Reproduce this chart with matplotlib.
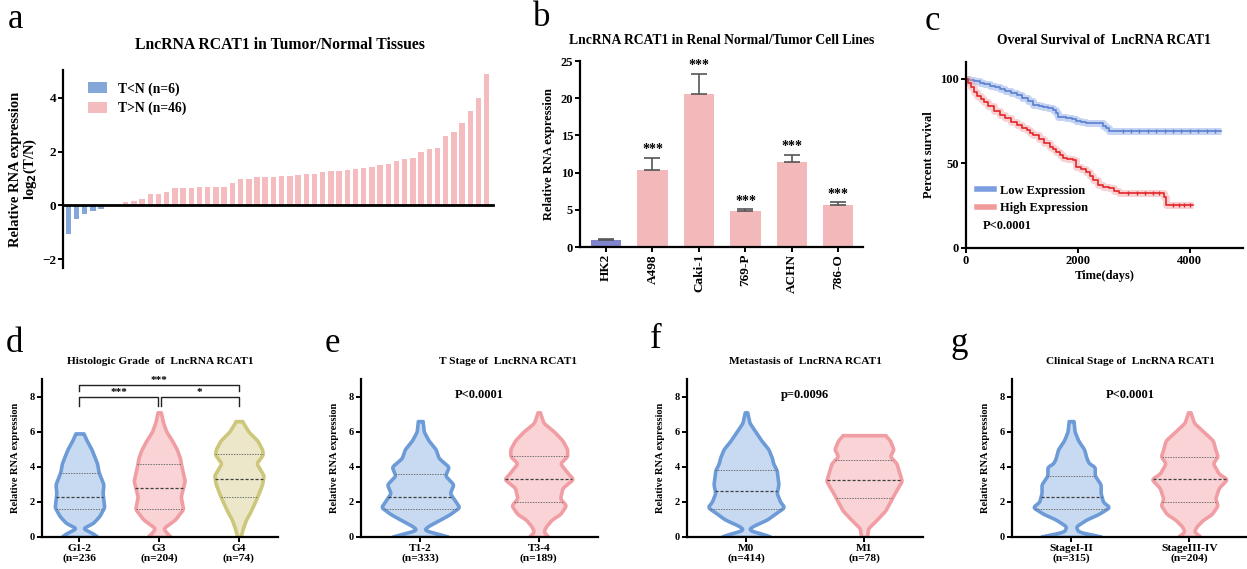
import numpy as np
import matplotlib
matplotlib.use("Agg")
import matplotlib.pyplot as plt
from matplotlib.lines import Line2D

plt.rcParams['font.family'] = ['Liberation Serif', 'DejaVu Serif']
plt.rcParams['font.weight'] = 'bold'
plt.rcParams['axes.labelweight'] = 'bold'
plt.rcParams['axes.linewidth'] = 1.6
plt.rcParams['xtick.major.width'] = 1.4
plt.rcParams['ytick.major.width'] = 1.4
plt.rcParams['xtick.major.size'] = 3.5
plt.rcParams['ytick.major.size'] = 3.5

# ---- panel a: paired tissues log2(T/N)
a_low = [-1.05, -0.5, -0.32, -0.22, -0.12, -0.03]
a_high = [0.03, 0.14, 0.17, 0.25, 0.42, 0.44, 0.49, 0.63, 0.64, 0.65, 0.68, 0.70,
          0.70, 0.70, 0.85, 0.98, 1.00, 1.04, 1.07, 1.07, 1.10, 1.10, 1.15, 1.17,
          1.17, 1.26, 1.27, 1.28, 1.30, 1.36, 1.41, 1.43, 1.49, 1.53, 1.67, 1.73,
          1.77, 2.00, 2.10, 2.15, 2.58, 2.73, 3.05, 3.53, 4.00, 4.88]

# ---- panel b: cell lines
b_cells = ['HK2', 'A498', 'Caki-1', '769-P', 'ACHN', '786-O']
b_mean = [1.0, 10.4, 20.5, 4.9, 11.4, 5.7]
b_err = [0.1, 1.6, 2.8, 0.15, 1.0, 0.3]

# ---- panel c: Kaplan-Meier (time in days, percent survival)
low_t = [0, 60, 150, 250, 320, 420, 520, 610, 700, 800, 905, 1000, 1100, 1200,
         1300, 1380, 1460, 1557, 1600, 1646, 1720, 1794, 1900, 1971, 2060, 2149,
         2300, 2386, 2450, 2504, 2563, 3000, 3500, 4000, 4550]
low_s = [100, 99.3, 98.5, 97.6, 96.8, 95.8, 95.0, 94.2, 93.0, 91.8, 90.5, 88.5,
         86.8, 84.8, 84.2, 83.6, 83.0, 81.6, 79.8, 77.7, 77.2, 76.7, 76.0, 75.3,
         74.5, 74.0, 73.9, 73.7, 72.2, 70.8, 69.4, 69.4, 69.4, 69.4, 69.4]
high_t = [0, 40, 90, 136, 200, 260, 314, 400, 500, 610, 700, 800, 905, 1000,
          1083, 1150, 1200, 1300, 1400, 1498, 1560, 1616, 1680, 1735, 1800, 1912,
          1971, 2060, 2149, 2210, 2267, 2356, 2450, 2563, 2650, 2741, 3200, 3510,
          3540, 3570, 4050]
high_s = [100, 97.5, 95.0, 92.5, 90.0, 88.2, 86.6, 84.0, 81.3, 78.7, 76.7, 74.6,
          72.7, 71.2, 69.8, 68.2, 66.8, 64.5, 62.0, 59.9, 58.4, 56.9, 55.0, 53.0,
          52.6, 52.0, 48.0, 46.6, 45.0, 42.4, 40.0, 37.2, 36.0, 35.2, 33.8, 32.6,
          32.6, 32.6, 30.2, 25.3, 25.3]
low_cens = [2800, 2950, 3100, 3250, 3400, 3550, 3700, 3850, 4000, 4150, 4300, 4450]
high_cens_a = [2900, 3050, 3200, 3350, 3450]
high_cens_b = [3700, 3800, 3900, 4000]

# ---- violins: (y level, half width)
blue_e, blue_f = '#6d9bd8', '#c8daf1'
pink_e, pink_f = '#f09ea3', '#f9d3d5'
olive_e, olive_f = '#cdc77c', '#ebe7c8'

d_cats = ['G1-2\n(n=236', 'G3\n(n=204)', 'G4\n(n=74)']
d_y = [
    [0, 0.2, 0.5, 0.8, 1.2, 1.7, 2.5, 3.0, 3.7, 4.2, 5.0, 5.5, 5.9],
    [0, 0.2, 0.5, 1.0, 1.6, 2.3, 3.2, 4.0, 4.5, 5.0, 5.5, 6.0, 6.5, 7.1],
    [0, 0.5, 1.0, 1.5, 2.3, 3.0, 3.5, 4.2, 4.7, 5.0, 5.5, 6.0, 6.6],
]
d_w = [
    [0.23, 0.17, 0.04, 0.17, 0.25, 0.31, 0.29, 0.30, 0.24, 0.22, 0.15, 0.09, 0.05],
    [0.15, 0.10, 0.05, 0.20, 0.30, 0.27, 0.32, 0.28, 0.26, 0.22, 0.16, 0.09, 0.05, 0.02],
    [0.02, 0.05, 0.09, 0.15, 0.23, 0.29, 0.31, 0.22, 0.30, 0.29, 0.23, 0.12, 0.04],
]
d_quart = [[1.6, 2.3, 3.65], [1.6, 2.8, 4.15], [2.3, 3.3, 4.75]]

e_cats = ['T1-2\n(n=333)', 'T3-4\n(n=189)']
e_y = [
    [0, 0.2, 0.4, 0.6, 1.0, 1.3, 1.7, 2.0, 2.5, 3.0, 3.5, 4.0, 4.5, 5.0, 5.5, 6.0, 6.6],
    [0, 0.3, 0.6, 1.0, 1.3, 1.8, 2.2, 2.8, 3.3, 3.6, 4.2, 4.6, 5.0, 5.5, 6.0, 6.5, 7.1],
]
e_w = [
    [0.25, 0.14, 0.03, 0.06, 0.17, 0.25, 0.33, 0.30, 0.25, 0.28, 0.21, 0.24, 0.155, 0.13, 0.07, 0.03, 0.02],
    [0.085, 0.04, 0.06, 0.11, 0.18, 0.23, 0.18, 0.20, 0.29, 0.25, 0.18, 0.24, 0.24, 0.20, 0.13, 0.04, 0.01],
]
e_quart = [[1.6, 2.3, 3.6], [2.0, 3.3, 4.6]]

f_cats = ['M0\n(n=414)', 'M1\n(n=78)']
f_y = [
    [0, 0.2, 0.4, 0.6, 1.0, 1.3, 1.7, 2.0, 2.5, 3.0, 3.8, 4.2, 4.5, 5.0, 5.5, 6.0, 6.5, 7.1],
    [0, 0.5, 1.0, 1.5, 2.0, 2.5, 3.2, 4.2, 4.6, 5.0, 5.5, 5.8],
]
f_w = [
    [0.22, 0.13, 0.02, 0.05, 0.18, 0.24, 0.325, 0.29, 0.26, 0.275, 0.26, 0.23, 0.22, 0.19, 0.13, 0.08, 0.03, 0.01],
    [0.025, 0.035, 0.11, 0.18, 0.22, 0.26, 0.32, 0.275, 0.22, 0.25, 0.22, 0.18],
]
f_quart = [[1.6, 2.6, 3.8], [2.2, 3.25, 4.4]]

g_cats = ['StageI-II\n(n=315)', 'StageIII-IV\n(n=204)']
g_y = [
    [0, 0.3, 0.6, 1.0, 1.3, 1.7, 2.0, 2.5, 3.0, 3.5, 4.0, 4.2, 4.5, 5.0, 5.5, 6.0, 6.6],
    [0, 0.3, 0.6, 1.0, 1.3, 1.8, 2.2, 2.8, 3.3, 3.6, 4.2, 4.6, 5.0, 5.5, 6.0, 6.5, 7.1],
]
g_w = [
    [0.275, 0.06, 0.04, 0.13, 0.23, 0.325, 0.27, 0.25, 0.25, 0.20, 0.20, 0.15, 0.13, 0.11, 0.06, 0.03, 0.02],
    [0.10, 0.04, 0.06, 0.12, 0.19, 0.24, 0.22, 0.25, 0.32, 0.25, 0.20, 0.24, 0.22, 0.20, 0.12, 0.04, 0.01],
]
g_quart = [[1.6, 2.3, 3.45], [2.0, 3.3, 4.55]]

W, H = 1247, 569
fig = plt.figure(figsize=(W / 100, H / 100), dpi=100)


def add_ax(l, t, r, b):
    return fig.add_axes([l / W, 1 - b / H, (r - l) / W, (b - t) / H])


def style(ax):
    ax.spines['top'].set_visible(False)
    ax.spines['right'].set_visible(False)
    ax.tick_params(labelsize=9, pad=1.5)


def smooth_outline(ys, ws):
    # only softens the corners of the traced outline when drawing it
    yy = np.linspace(ys[0], ys[-1], 240)
    ww = np.interp(yy, ys, ws)
    k = np.ones(7) / 7
    pad = np.concatenate([np.full(3, ww[0]), ww, np.full(3, ww[-1])])
    return yy, np.convolve(pad, k, mode='valid')


def violin(ax, x, ys, ws, edge, face, quart):
    yy, ww = smooth_outline(np.array(ys), np.array(ws))
    ax.fill_betweenx(yy, x - ww, x + ww, facecolor=face, edgecolor=edge, lw=2.6,
                     joinstyle='round', zorder=2)
    for k, q in enumerate(quart):
        w = np.interp(q, yy, ww)
        if k == 1:
            ax.plot([x - w, x + w], [q, q], color='#404040', lw=0.9, ls=(0, (2.5, 1.5)), zorder=3)
        else:
            ax.plot([x - w, x + w], [q, q], color='#707070', lw=0.7, ls=(0, (1.5, 1.2)), zorder=3)


def violin_panel(ax, cats, ys, ws, quart, cols):
    style(ax)
    for i in range(len(cats)):
        violin(ax, i, ys[i], ws[i], cols[i][0], cols[i][1], quart[i])
    ax.set_ylim(0, 9)
    ax.set_yticks([0, 2, 4, 6, 8])
    ax.set_xticks(range(len(cats)))
    ax.set_xticklabels(cats, fontsize=8.2, linespacing=1.1)
    ax.tick_params(axis='y', labelsize=7.5)
    ax.set_ylabel('Relative RNA expression', fontsize=7.5, labelpad=7)


# ---------------- a
ax = add_ax(63, 70, 493, 268)
style(ax)
n_low = len(a_low)
xa = np.arange(n_low + len(a_high))
ax.bar(xa[:n_low], a_low, width=0.66, color='#84a7da', label='T<N (n=6)')
ax.bar(xa[n_low:], a_high, width=0.66, color='#f5bcc0', label='T>N (n=46)')
ax.spines['bottom'].set_position(('data', 0))
ax.spines['bottom'].set_linewidth(2)
ax.set_xticks([])
ax.set_xlim(-0.65, 51.77)
ax.set_ylim(-2.33, 5.04)
ax.set_yticks([-2, 0, 2, 4])
ax.tick_params(labelsize=9.5)
ax.set_ylabel('Relative RNA expression\nlog$_\\mathbf{2}$(T/N)', fontsize=10.5, labelpad=2,
              linespacing=1.0)
ax.legend(loc='upper left', bbox_to_anchor=(0.03, 1.0), frameon=False, fontsize=9.8,
          handlelength=1.4, handleheight=0.85, labelspacing=0.45)

# ---------------- b
ax = add_ax(580, 61, 863, 247)
style(ax)
xb = np.arange(len(b_cells))
cols_b = ['#7f84cc'] + ['#f3b9ba'] * (len(b_cells) - 1)
ax.bar(xb, b_mean, width=0.65, color=cols_b)
ax.errorbar(xb, b_mean, yerr=[np.zeros(len(b_err)), b_err], fmt='none', ecolor='#555555',
            elinewidth=1.2, capsize=6, capthick=1.2)
for i in range(1, len(b_cells)):
    ax.text(xb[i], b_mean[i] + b_err[i] + 0.2, '***', ha='center', va='bottom', fontsize=10)
ax.set_xlim(-0.56, 5.53)
ax.set_ylim(0, 25)
ax.set_yticks([0, 5, 10, 15, 20, 25])
ax.set_xticks(xb)
ax.set_xticklabels(b_cells, rotation=90, fontsize=9.5)
ax.set_ylabel('Relative RNA expression', fontsize=9, labelpad=4)

# ---------------- c
ax = add_ax(966, 62, 1243, 248)
style(ax)
ax.step(low_t, low_s, where='post', color='#7c9ee0', lw=5, alpha=0.45, solid_capstyle='butt')
ax.step(low_t, low_s, where='post', color='#5a7fd0', lw=1.2)
ax.step(high_t, high_s, where='post', color='#f19a9c', lw=5, alpha=0.45, solid_capstyle='butt')
ax.step(high_t, high_s, where='post', color='#e3262a', lw=1.2)
ax.plot(low_cens, [low_s[-1]] * len(low_cens), ls='none', marker='|', ms=3, color='#5a7fd0')
ax.plot(high_cens_a, [32.6] * len(high_cens_a), ls='none', marker='|', ms=3, color='#e3262a')
ax.plot(high_cens_b, [25.3] * len(high_cens_b), ls='none', marker='|', ms=3, color='#e3262a')
ax.set_xlim(0, 4950)
ax.set_ylim(0, 110)
ax.set_xticks([0, 2000, 4000])
ax.set_yticks([0, 50, 100])
ax.set_xlabel('Time(days)', fontsize=9, labelpad=2)
ax.set_ylabel('Percent survival', fontsize=9, labelpad=4)
hdl = [Line2D([], [], color='#7c9ee0', lw=4), Line2D([], [], color='#f19a9c', lw=4)]
ax.legend(hdl, ['Low Expression', 'High Expression'], loc='lower left',
          bbox_to_anchor=(0.0, 0.12), frameon=False, fontsize=9, handlelength=1.3,
          handletextpad=0.5, labelspacing=0.45)
ax.text(0.06, 0.10, 'P<0.0001', transform=ax.transAxes, fontsize=9)

# ---------------- d
ax = add_ax(42, 379, 278, 537)
violin_panel(ax, d_cats, d_y, d_w, d_quart,
             [(blue_e, blue_f), (pink_e, pink_f), (olive_e, olive_f)])
ax.set_xlim(-0.47, 2.49)
ax.plot([0, 0, 0.98, 0.98], [7.45, 7.95, 7.95, 7.45], color='#222222', lw=1)
ax.plot([1.02, 1.02, 2, 2], [7.45, 7.95, 7.95, 7.45], color='#222222', lw=1)
ax.plot([0, 0, 2, 2], [8.3, 8.63, 8.63, 8.3], color='#222222', lw=1)
ax.text(0.5, 7.95, '***', ha='center', va='bottom', fontsize=8)
ax.text(1.5, 7.95, '*', ha='center', va='bottom', fontsize=8)
ax.text(1.0, 8.63, '***', ha='center', va='bottom', fontsize=8, clip_on=False)

# ---------------- e
ax = add_ax(361, 379, 598, 537)
violin_panel(ax, e_cats, e_y, e_w, e_quart, [(blue_e, blue_f), (pink_e, pink_f)])
ax.set_xlim(-0.5, 1.5)
ax.text(0.5, 8.1, 'P<0.0001', ha='center', va='center', fontsize=9)

# ---------------- f
ax = add_ax(687, 379, 923, 537)
violin_panel(ax, f_cats, f_y, f_w, f_quart, [(blue_e, blue_f), (pink_e, pink_f)])
ax.set_xlim(-0.5, 1.5)
ax.text(0.5, 8.1, 'p=0.0096', ha='center', va='center', fontsize=9)

# ---------------- g
ax = add_ax(1012, 379, 1246, 537)
violin_panel(ax, g_cats, g_y, g_w, g_quart, [(blue_e, blue_f), (pink_e, pink_f)])
ax.set_xlim(-0.5, 1.48)
ax.text(0.5, 8.1, 'P<0.0001', ha='center', va='center', fontsize=9)

# titles and panel letters
titles = [
    (280, 45, 'LncRNA RCAT1 in Tumor/Normal Tissues', 11.3),
    (722, 40, 'LncRNA RCAT1 in Renal Normal/Tumor Cell Lines', 9.8),
    (1104, 40, 'Overal Survival of  LncRNA RCAT1', 9.8),
    (160, 361, 'Histologic Grade  of  LncRNA RCAT1', 8.2),
    (508, 361, 'T Stage of  LncRNA RCAT1', 8.2),
    (805, 361, 'Metastasis of  LncRNA RCAT1', 8.2),
    (1130, 361, 'Clinical Stage of  LncRNA RCAT1', 8.2),
]
for x, y, s, fs in titles:
    fig.text(x / W, 1 - y / H, s, ha='center', va='center', fontsize=fs)

letters = [(8, 20, 'a'), (533, 18, 'b'), (925, 22, 'c'), (6, 343, 'd'),
           (325, 343, 'e'), (650, 340, 'f'), (951, 343, 'g')]
for x, y, s in letters:
    fig.text(x / W, 1 - y / H, s, ha='left', va='center', fontsize=25, fontweight='normal')

fig.savefig('out.png', dpi=100)
